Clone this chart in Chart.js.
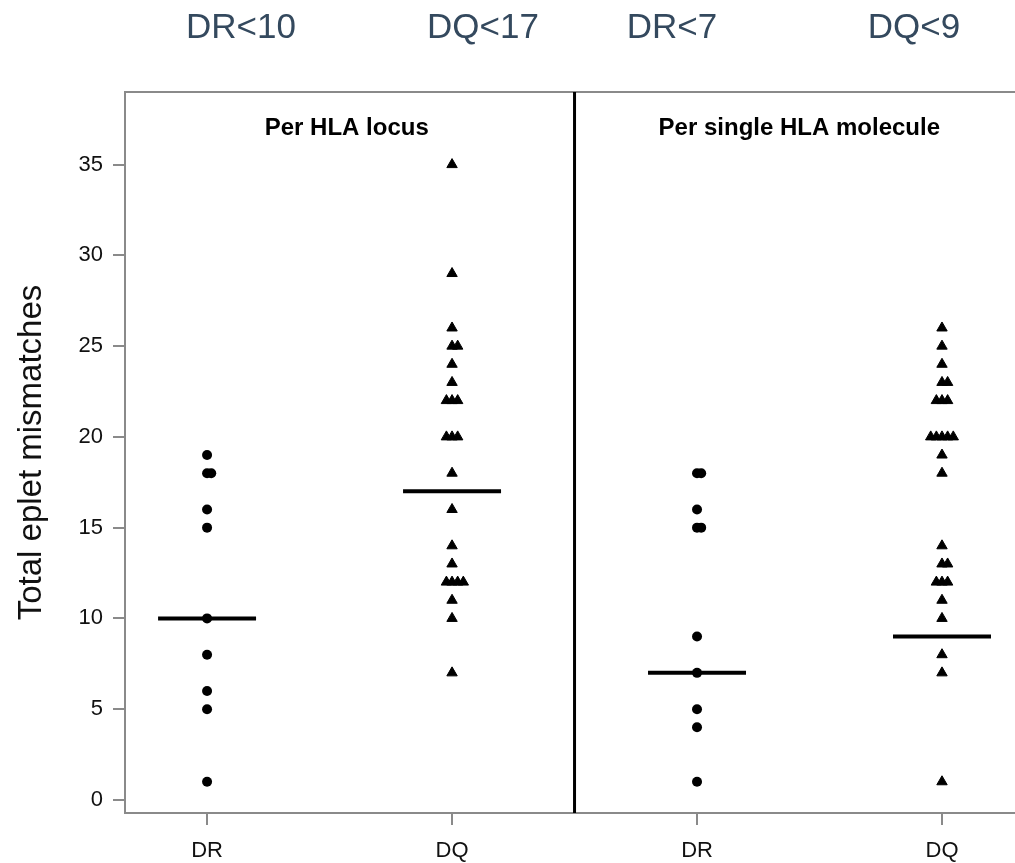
<!DOCTYPE html>
<html>
<head>
<meta charset="utf-8">
<script src="https://cdn.jsdelivr.net/npm/chart.js@4"></script>
<style>
  body { margin: 0; background: #fff; }
  #wrap { width: 1015px; height: 863px; }
</style>
</head>
<body>
<div id="wrap"><canvas id="chart" width="1015" height="863"></canvas></div>
<script>
// categories (x positions 1..4)
const groupLabels = ["DR", "DQ", "DR", "DQ"];
const panelTitles = ["Per HLA locus", "Per single HLA molecule"];

// eplet mismatch counts per patient
const drLocus = [19, 18, 18, 16, 15, 10, 8, 6, 5, 1];
const dqLocus = [35, 29, 26, 25, 25, 24, 23, 22, 22, 22, 20, 20, 20, 18, 16, 14, 13, 12, 12, 12, 12, 11, 10, 7];
const drMolecule = [18, 18, 16, 15, 15, 9, 7, 5, 4, 1];
const dqMolecule = [26, 25, 24, 23, 23, 22, 22, 22, 20, 20, 20, 20, 20, 19, 18, 14, 13, 13, 12, 12, 12, 11, 10, 8, 7, 1];

// threshold lines and their labels
const cutoffs = [10, 17, 7, 9];
const cutoffLabels = ["DR<10", "DQ<17", "DR<7", "DQ<9"];

const yTicks = [0, 5, 10, 15, 20, 25, 30, 35];

const FONT = "'Liberation Sans', Arial, Helvetica, sans-serif";
const AXIS_GREY = "#8a8a8a";

// put tied values side by side, like a dot plot
function spread(values, center, step) {
    const counts = {};
    values.forEach(v => counts[v] = (counts[v] || 0) + 1);
    const seen = {};
    return values.map(v => {
        const n = counts[v];
        const k = seen[v] = (seen[v] === undefined ? 0 : seen[v] + 1);
        return { x: center + (k - Math.floor((n - 1) / 2)) * step, y: v };
    });
}

function dots(values, center) {
    return {
        type: "scatter",
        data: spread(values, center, 0.017),
        pointStyle: "circle",
        pointRadius: 5,
        backgroundColor: "#000",
        borderWidth: 0
    };
}

function triangles(values, center) {
    return {
        type: "scatter",
        data: spread(values, center, 0.023),
        pointStyle: "triangle",
        pointRadius: 6,
        backgroundColor: "#000",
        borderColor: "#000",
        borderWidth: 1
    };
}

const cutoffSets = cutoffs.map((c, i) => ({
    type: "line",
    data: [{ x: i + 1 - 0.2, y: c }, { x: i + 1 + 0.2, y: c }],
    borderColor: "#000",
    borderWidth: 4,
    pointRadius: 0,
    fill: false
}));

// divider, top frame line, panel titles and cutoff labels
const decorations = {
    id: "decorations",
    afterDatasetsDraw(chart) {
        const { ctx, chartArea, scales } = chart;
        const x = scales.x;
        ctx.save();

        ctx.strokeStyle = AXIS_GREY;
        ctx.lineWidth = 2;
        ctx.beginPath();
        ctx.moveTo(chartArea.left, chartArea.top);
        ctx.lineTo(chartArea.right, chartArea.top);
        ctx.stroke();

        const mid = x.getPixelForValue(2.5);
        ctx.strokeStyle = "#000";
        ctx.lineWidth = 3;
        ctx.beginPath();
        ctx.moveTo(mid, chartArea.top);
        ctx.lineTo(mid, chartArea.bottom);
        ctx.stroke();

        ctx.fillStyle = "#000";
        ctx.font = "bold 24px " + FONT;
        ctx.textAlign = "center";
        ctx.textBaseline = "middle";
        ctx.fillText(panelTitles[0], (chartArea.left + mid) / 2 - 3, 128);
        ctx.fillText(panelTitles[1], (mid + x.getPixelForValue(4.335)) / 2, 128);

        ctx.fillStyle = "#34495e";
        ctx.font = "35px " + FONT;
        const labelX = [241, 483, 672, 914];
        cutoffLabels.forEach((t, i) => ctx.fillText(t, labelX[i], 28));

        ctx.restore();
    }
};

new Chart(document.getElementById("chart"), {
    data: {
        datasets: [
            ...cutoffSets,
            dots(drLocus, 1),
            triangles(dqLocus, 2),
            dots(drMolecule, 3),
            triangles(dqMolecule, 4)
        ]
    },
    options: {
        responsive: false,
        animation: false,
        layout: { autoPadding: false, padding: { top: 92, left: 0, right: 0, bottom: 0 } },
        plugins: {
            legend: { display: false },
            tooltip: { enabled: false }
        },
        scales: {
            x: {
                type: "linear",
                min: 0.665,
                max: 4.298,
                afterBuildTicks: s => { s.ticks = [1, 2, 3, 4].map(v => ({ value: v })); },
                afterFit: s => { s.height = 50; },
                ticks: {
                    callback: v => groupLabels[v - 1],
                    color: "#111",
                    font: { family: FONT, size: 22 },
                    padding: 13,
                    maxRotation: 0
                },
                grid: {
                    drawOnChartArea: false,
                    drawTicks: true,
                    tickLength: 12,
                    color: AXIS_GREY,
                    lineWidth: 2
                },
                border: { display: true, color: AXIS_GREY, width: 2 }
            },
            y: {
                min: -0.72,
                max: 39,
                afterBuildTicks: s => { s.ticks = yTicks.map(v => ({ value: v })); },
                afterFit: s => { s.width = 125; },
                ticks: {
                    color: "#111",
                    font: { family: FONT, size: 22 },
                    padding: 10
                },
                grid: {
                    drawOnChartArea: false,
                    drawTicks: true,
                    tickLength: 12,
                    color: AXIS_GREY,
                    lineWidth: 2
                },
                border: { display: true, color: AXIS_GREY, width: 2 },
                title: {
                    display: true,
                    text: "Total eplet mismatches",
                    color: "#111",
                    font: { family: FONT, size: 33 },
                    padding: { top: 12, bottom: 0 }
                }
            }
        }
    },
    plugins: [decorations]
});
</script>
</body>
</html>
